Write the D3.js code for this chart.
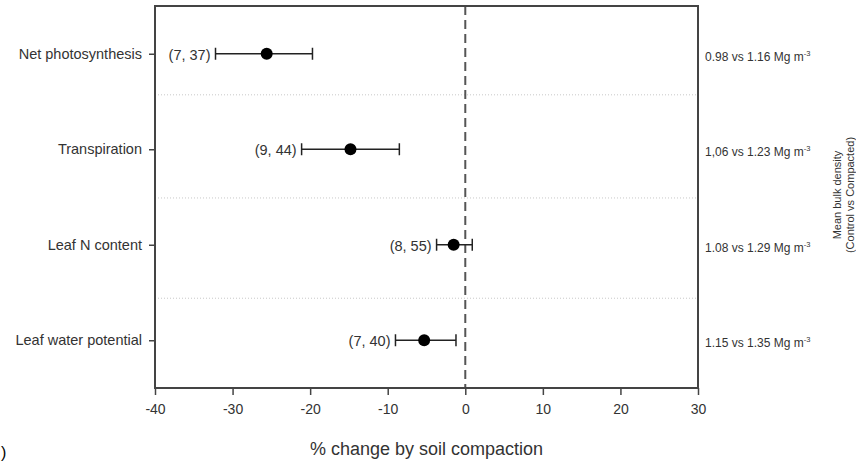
<!DOCTYPE html>
<html><head><meta charset="utf-8">
<script src="https://cdn.jsdelivr.net/npm/d3@7"></script>
<style>body{margin:0;background:#fff}svg{display:block}text{font-family:"Liberation Sans",Arial,sans-serif}</style>
</head><body><svg id="c" width="856" height="461"></svg>
<script>
const categories = ["Net photosynthesis","Transpiration","Leaf N content","Leaf water potential"];
const positions = [4,3,2,1];
const means = [-25.6,-14.8,-1.5,-5.3];
const lowers = [-32.2,-21.1,-3.7,-9.0];
const uppers = [-19.7,-8.5,0.9,-1.2];
const nLabels = ["(7, 37)","(9, 44)","(8, 55)","(7, 40)"];
const densities = ["0.98 vs 1.16 Mg m","1,06 vs 1.23 Mg m","1.08 vs 1.29 Mg m","1.15 vs 1.35 Mg m"];
const separators = [3.57,2.49,1.44];
const xTicks = [-40,-30,-20,-10,0,10,20,30];

const svg = d3.select("#c");
const L=155,R=698,T=6,B=388;
const x = d3.scaleLinear().domain([-40,30]).range([L,R]);
const y = d3.scaleLinear().domain([0.5,4.5]).range([B,T]);
const ink="#222", axc="#444", tc="#333";

// separators
svg.selectAll(".sep").data(separators).join("line")
  .attr("x1",L).attr("x2",R).attr("y1",d=>y(d)).attr("y2",d=>y(d))
  .attr("stroke","#c8c8c8").attr("stroke-width",1).attr("stroke-dasharray","1,2");

// zero line
svg.append("line").attr("x1",x(0)).attr("x2",x(0)).attr("y1",T).attr("y2",B)
  .attr("stroke","#555").attr("stroke-width",2).attr("stroke-dasharray","9,5");

// x axis
const xa = svg.append("g").attr("transform",`translate(0,${B})`)
  .call(d3.axisBottom(x).tickValues(xTicks).tickSize(7).tickPadding(9).tickFormat(d=>String(d)));
xa.select(".domain").remove();
xa.selectAll("line").attr("stroke",axc).attr("stroke-width",1.5);
xa.selectAll("text").attr("font-size",14).attr("fill",tc).style("font-family","Liberation Sans, Arial, sans-serif");

// y axis
const ya = svg.append("g").attr("transform",`translate(${L},0)`)
  .call(d3.axisLeft(y).tickValues(positions).tickSize(6).tickPadding(7).tickFormat(d=>categories[positions.indexOf(d)]));
ya.select(".domain").remove();
ya.selectAll("line").attr("stroke",axc).attr("stroke-width",1.5);
ya.selectAll("text").attr("font-size",14.5).attr("fill",tc).style("font-family","Liberation Sans, Arial, sans-serif");

// box
svg.append("rect").attr("x",L).attr("y",T).attr("width",R-L).attr("height",B-T)
  .attr("fill","none").attr("stroke",axc).attr("stroke-width",2);

// error bars
const g = svg.append("g");
categories.forEach((c,i)=>{
  const yy=y(positions[i]);
  g.append("line").attr("x1",x(lowers[i])).attr("x2",x(uppers[i])).attr("y1",yy).attr("y2",yy).attr("stroke",ink).attr("stroke-width",1.5);
  [lowers[i],uppers[i]].forEach(v=>g.append("line").attr("x1",x(v)).attr("x2",x(v)).attr("y1",yy-6).attr("y2",yy+6).attr("stroke",ink).attr("stroke-width",1.5));
  g.append("circle").attr("cx",x(means[i])).attr("cy",yy).attr("r",6).attr("fill","#000");
  g.append("text").attr("x",x(lowers[i])-5).attr("y",yy+1).attr("dy","0.35em").attr("text-anchor","end")
    .attr("font-size",14.5).attr("fill",tc).text(nLabels[i]);
  const t=svg.append("text").attr("x",705).attr("y",yy+3).attr("dy","0.35em").attr("font-size",12).attr("fill",tc);
  t.append("tspan").text(densities[i]);
  t.append("tspan").attr("dy","-5").attr("font-size",7.5).text("-3");
});

// right title
const rt = svg.append("text").attr("transform","translate(841,195) rotate(-90)").attr("text-anchor","middle").attr("font-size",11).attr("fill",tc);
rt.append("tspan").attr("x",0).attr("dy",0).text("Mean bulk density");
rt.append("tspan").attr("x",0).attr("dy",12.5).text("(Control vs Compacted)");

// x title
svg.append("text").attr("x",(L+R)/2).attr("y",455).attr("text-anchor","middle").attr("font-size",18).attr("fill",tc).text("% change by soil compaction");
svg.append("text").attr("x",1).attr("y",458).attr("font-size",16).attr("fill","#000").text(")");
</script></body></html>
